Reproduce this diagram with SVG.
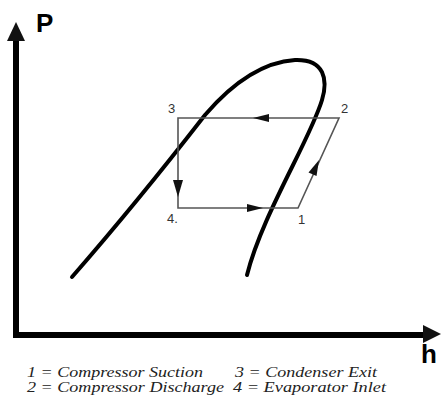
<svg xmlns="http://www.w3.org/2000/svg" width="441" height="402" viewBox="0 0 441 402">
<style>
.axis{stroke:#000;stroke-width:6;fill:none}
.dome{stroke:#000;stroke-width:4;fill:none;stroke-linecap:round}
.cyc{stroke:#555;stroke-width:1.6;fill:none}
.ah{fill:#111}
.ax{font-family:"Liberation Sans",Arial,sans-serif;font-weight:bold;font-size:26px;fill:#000}
.pt{font-family:"Liberation Sans",Arial,sans-serif;font-size:13px;fill:#333}
.lg{font-family:"Liberation Serif","Times New Roman",serif;font-style:italic;font-size:15px;fill:#222}
</style>
<rect width="441" height="402" fill="#fff"/>
<g id="axes">
<path class="axis" d="M16,38 L16,335 L426,335"/>
<polygon class="ah" points="16,22 7,41 25,41"/>
<polygon class="ah" points="441,334 423,325 423,343"/>
<text class="ax" x="36" y="32">P</text>
<text class="ax" x="421" y="363">h</text>
</g>
<g id="dome">
<path class="dome" d="M72,277 C120,222 170,160 205,115 C235,80 265,62 295,60 C325,59 328,80 322,100 C310,140 262,215 247,275"/>
</g>
<g id="connectors">
<path class="cyc" d="M339,118 L178,118 L178,208 L298,208 Z"/>
<polygon class="ah" points="253,118 269,114 269,122"/>
<polygon class="ah" points="178,197 173,180 183,180"/>
<polygon class="ah" points="263,208 247,204 247,212"/>
<polygon class="ah" points="319,160 308.5,172.5 316.5,176"/>
</g>
<g id="node-1"><text class="pt" x="298" y="224">1</text></g>
<g id="node-2"><text class="pt" x="341" y="113">2</text></g>
<g id="node-3"><text class="pt" x="168" y="113">3</text></g>
<g id="node-4"><text class="pt" x="167" y="223">4.</text></g>
<g id="legend">
<text class="lg" x="27" y="377" textLength="176" lengthAdjust="spacingAndGlyphs">1 = Compressor Suction</text>
<text class="lg" x="235" y="377" textLength="142" lengthAdjust="spacingAndGlyphs">3 = Condenser Exit</text>
<text class="lg" x="27" y="392" textLength="197" lengthAdjust="spacingAndGlyphs">2 = Compressor Discharge</text>
<text class="lg" x="233" y="392" textLength="153" lengthAdjust="spacingAndGlyphs">4 = Evaporator Inlet</text>
</g>
</svg>
